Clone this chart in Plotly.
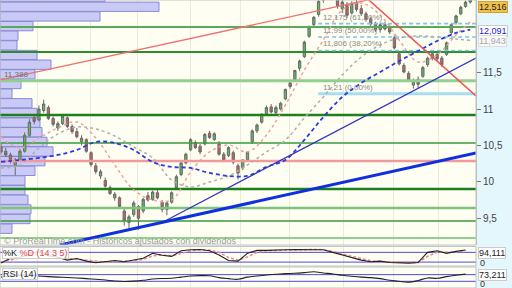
import plotly.graph_objects as go

# ---------------- data ----------------
idx = list(range(100))
opens = [10.48,10.42,10.37,10.23,10.30,10.42,10.64,10.88,10.85,10.98,
         11.02,10.87,10.74,10.80,10.88,10.76,10.69,10.55,10.58,10.40,
         10.22,10.08,10.02,9.92,9.78,9.78,9.60,9.44,9.55,9.66,
         9.60,9.81,9.76,9.85,9.72,9.62,9.72,9.92,10.10,10.26,
         10.44,10.54,10.49,10.52,10.67,10.58,10.52,10.38,10.36,10.40,
         10.22,10.19,10.30,10.55,10.70,10.82,10.94,11.03,10.95,11.00,
         11.14,11.36,11.40,11.56,11.72,12.00,12.16,12.30,12.50,12.60,
         12.68,12.55,12.38,12.44,12.32,12.46,12.38,12.31,12.24,12.18,
         12.09,12.16,12.12,11.98,11.76,11.60,11.49,11.33,11.41,11.45,
         11.61,11.70,11.75,11.70,11.75,12.05,12.19,12.31,12.41,12.47]
highs = [10.53,10.47,10.40,10.33,10.45,10.68,10.86,10.93,11.05,11.13,
         11.05,10.90,10.83,10.92,10.90,10.79,10.74,10.64,10.60,10.42,
         10.26,10.17,10.06,9.95,9.86,9.80,9.63,9.55,9.74,9.68,
         9.78,9.86,9.88,9.89,9.75,9.73,9.87,10.10,10.29,10.40,
         10.60,10.57,10.52,10.67,10.70,10.68,10.56,10.41,10.49,10.43,
         10.25,10.31,10.42,10.72,10.80,10.94,11.05,11.07,11.05,11.10,
         11.28,11.40,11.54,11.68,11.94,12.15,12.28,12.52,12.66,12.77,
         12.72,12.58,12.52,12.47,12.48,12.52,12.43,12.34,12.27,12.20,
         12.19,12.20,12.16,12.01,11.79,11.63,11.52,11.42,11.45,11.59,
         11.72,11.79,11.78,11.73,11.93,12.18,12.30,12.42,12.49,12.55]
lows = [10.38,10.34,10.25,10.09,10.27,10.40,10.62,10.79,10.83,10.95,
        10.85,10.76,10.70,10.78,10.74,10.66,10.60,10.50,10.40,10.21,
        10.11,10.04,9.92,9.82,9.74,9.64,9.40,9.34,9.52,9.34,
        9.57,9.73,9.74,9.76,9.58,9.54,9.70,9.90,10.08,10.24,
        10.42,10.45,10.38,10.50,10.59,10.56,10.36,10.27,10.34,10.24,
        10.03,10.16,10.28,10.52,10.67,10.80,10.92,10.94,10.91,10.98,
        11.12,11.28,11.38,11.52,11.70,11.98,12.14,12.27,12.46,12.56,
        12.52,12.38,12.32,12.25,12.30,12.34,12.28,12.20,12.14,12.06,
        12.05,12.08,12.03,11.82,11.60,11.49,11.38,11.28,11.29,11.43,
        11.58,11.67,11.66,11.58,11.73,12.02,12.16,12.29,12.39,12.45]
closes = [10.41,10.37,10.30,10.30,10.42,10.64,10.82,10.83,11.00,11.07,
          10.87,10.79,10.80,10.90,10.76,10.69,10.62,10.60,10.42,10.24,
          10.14,10.14,9.94,9.84,9.83,9.66,9.47,9.52,9.71,9.50,
          9.76,9.75,9.86,9.78,9.62,9.71,9.85,10.07,10.26,10.38,
          10.58,10.47,10.41,10.65,10.61,10.66,10.38,10.30,10.47,10.27,
          10.12,10.30,10.41,10.70,10.78,10.93,11.02,10.96,11.02,11.08,
          11.27,11.31,11.53,11.66,11.92,12.13,12.26,12.48,12.62,12.70,
          12.55,12.42,12.47,12.29,12.45,12.37,12.31,12.23,12.17,12.09,
          12.16,12.10,12.06,11.84,11.62,11.51,11.40,11.39,11.34,11.57,
          11.70,11.76,11.69,11.61,11.91,12.16,12.28,12.40,12.47,12.516]

ma_idx = [0,4,8,12,16,20,24,28,32,36,40,44,48,52,56,60,64,68,72,76,80,84,88,92,96,99]
ma_blue = [10.273,10.301,10.328,10.369,10.438,10.548,10.534,10.438,10.273,10.205,10.191,10.122,10.081,
           10.081,10.205,10.301,10.576,10.891,11.166,11.358,11.510,11.661,11.798,11.936,12.046,12.091]
ma_grey = [10.191,10.232,10.465,10.658,10.754,10.727,10.630,10.479,10.328,10.026,9.930,9.998,10.081,
           10.232,10.410,10.575,10.878,11.166,11.469,11.716,11.881,11.977,12.004,11.991,11.963,11.943]
ma_pink = [10.617,10.465,10.603,10.740,10.823,10.603,10.232,9.889,9.751,9.751,10.136,10.411,10.507,
           10.411,10.644,11.056,11.537,11.949,12.362,12.458,12.293,11.949,11.647,11.743,12.018,12.197]

# volume profile (price bin centre, volume)
vp_price = [12.538,12.406,12.273,12.140,12.008,11.875,11.743,11.610,11.477,11.345,11.212,11.080,
            10.947,10.814,10.682,10.549,10.417,10.284,10.151,10.019,9.886,9.754,9.621,9.489,9.356]
vp_volume = [105,159,100,33,18,17,37,51,35,21,12,32,37,40,42,47,53,45,35,25,25,28,31,30,12]

# horizontal support/resistance levels
green_levels = [12.128,11.785,11.388,10.919,10.534,9.902,9.641,9.462,9.229]
green_colors = ['#5aa85a','#2e8b2e','#8fcf8f','#1f7f1f','#3a9a3a','#1f7f1f','#7cc47c','#3a9a3a','#8fcf8f']
green_widths = [2,2,3,2.5,1.5,2.5,2.5,1.5,2]
red_level = 10.287

fib_levels = [12.175, 11.99, 11.806, 11.21]
fib_labels = ['12,175 (61,80%)', '11,99 (50,00%)', '11,806 (38,20%)', '11,21 (0,00%)']
fib_start = 66.9

# trend lines: (x0, y0, x1, y1, colour, width)
trendlines = [
    (-0.21, 11.40, 85.0, 12.608, '#f07070', 1.3),
    (77.6, 12.499, 100.2, 11.180, '#f05050', 1.5),
    (34.6, 9.462, 100.2, 11.702, '#3535c0', 1.3),
    (12.45, 9.133, 100.2, 10.397, '#1030e0', 3),
]

grid_x = [7.8, 18.8, 28.9, 39.9, 50.6, 60.8, 72.2, 82.7, 92.4]

osc_idx = list(range(0, 100, 2))
stoch_k = [14,44,50,70,85,60,50,32,42,26,16,24,30,22,32,44,74,62,55,90,96,98,90,64,30,
           26,74,92,92,92,96,98,98,100,96,80,64,50,32,22,26,18,14,14,18,80,90,74,86,94.1]
stoch_d = [20,32,45,58,72,70,58,42,38,32,22,20,24,26,28,36,58,64,58,72,90,96,94,80,48,
           32,52,80,90,92,94,96,98,98,96,86,70,56,40,28,24,22,18,16,16,56,80,80,82,92]
rsi = [55,60,64,66,62,58,55,53,50,46,42,38,32,29,31,36,44,47,48,55,62,64,63,52,46,
       42,55,62,68,72,76,78,82,87,80,74,66,60,55,52,46,36,30,25,35,50,48,58,66,73.2]

# ---------------- figure ----------------
W = 476 / 512
XR = [-0.21, 100.21]
FONT = 'Liberation Sans, Arial, sans-serif'

fig = go.Figure()

fig.add_trace(go.Bar(y=vp_price, x=vp_volume, orientation='h', width=0.128, base=0,
                     marker=dict(color='rgba(198,198,246,0.92)', line=dict(color='#8a8ad2', width=1)),
                     xaxis='x2', yaxis='y', hoverinfo='skip'))

for lv, c, w in zip(green_levels, green_colors, green_widths):
    fig.add_trace(go.Scatter(x=XR, y=[lv, lv], mode='lines', line=dict(color=c, width=w),
                             xaxis='x', yaxis='y', hoverinfo='skip'))
fig.add_trace(go.Scatter(x=XR, y=[red_level, red_level], mode='lines',
                         line=dict(color='#f29a9a', width=2.5), hoverinfo='skip'))

for k, lv in enumerate(fib_levels):
    last = k == len(fib_levels) - 1
    fig.add_trace(go.Scatter(x=[fib_start, XR[1]], y=[lv, lv], mode='lines',
                             line=dict(color='#a8dcf4' if last else '#7cc4ee', width=3 if last else 1.6,
                                       dash='solid' if last else '4px,3px'), hoverinfo='skip'))

fig.add_trace(go.Scatter(x=ma_idx, y=ma_grey, mode='lines', line=dict(color='#b0b0a8', width=1.5, dash='3px,3px', shape='spline'), hoverinfo='skip'))
fig.add_trace(go.Scatter(x=ma_idx, y=ma_pink, mode='lines', line=dict(color='#f0a0a0', width=1.5, dash='3px,3px', shape='spline'), hoverinfo='skip'))
fig.add_trace(go.Scatter(x=ma_idx, y=ma_blue, mode='lines', line=dict(color='#2a3ae0', width=1.8, dash='4px,3px', shape='spline'), hoverinfo='skip'))

for x0, y0, x1, y1, c, w in trendlines:
    fig.add_trace(go.Scatter(x=[x0, x1], y=[y0, y1], mode='lines', line=dict(color=c, width=w), hoverinfo='skip'))

fig.add_trace(go.Candlestick(x=idx, open=opens, high=highs, low=lows, close=closes,
                             increasing=dict(line=dict(color='#6a6a6a', width=1), fillcolor='#5cb85c'),
                             decreasing=dict(line=dict(color='#6a6a6a', width=1), fillcolor='#c8605c'),
                             whiskerwidth=0, xaxis='x', yaxis='y', hoverinfo='skip'))

# stochastic panel
for lv in [80, 20]:
    fig.add_trace(go.Scatter(x=XR, y=[lv, lv], mode='lines', line=dict(color='#4a4ae6', width=1),
                             xaxis='x3', yaxis='y3', hoverinfo='skip'))
fig.add_trace(go.Scatter(x=osc_idx, y=stoch_d, mode='lines', line=dict(color='#f08888', width=1.5, dash='3px,2px'),
                         xaxis='x3', yaxis='y3', hoverinfo='skip'))
fig.add_trace(go.Scatter(x=osc_idx, y=stoch_k, mode='lines', line=dict(color='#222222', width=1.1),
                         xaxis='x3', yaxis='y3', hoverinfo='skip'))

# RSI panel
for lv in [70, 30]:
    fig.add_trace(go.Scatter(x=XR, y=[lv, lv], mode='lines', line=dict(color='#4a4ae6', width=1),
                             xaxis='x4', yaxis='y4', hoverinfo='skip'))
fig.add_trace(go.Scatter(x=osc_idx, y=rsi, mode='lines', line=dict(color='#222222', width=1.1, shape='spline'),
                         xaxis='x4', yaxis='y4', hoverinfo='skip'))

gridc = '#ecebd8'
xcommon = dict(range=XR, showticklabels=False, tickvals=grid_x, showgrid=True, gridcolor=gridc,
               gridwidth=1, zeroline=False, ticks='', domain=[0, W], fixedrange=True)

ann = []
def A(text, x, y, xref='paper', yref='paper', **kw):
    d = dict(text=text, x=x, y=y, xref=xref, yref=yref, showarrow=False,
             font=dict(family=FONT, size=kw.pop('size', 9), color=kw.pop('color', '#555555')))
    d.update(kw)
    ann.append(d)

def py(p):
    return 1 - p / 288

A('11,388', 0.004, 11.388, yref='y', xanchor='left', yanchor='bottom', size=8, color='#707070')
for lv, lab in zip(fib_levels, fib_labels):
    A(lab, fib_start + 0.6, lv, xref='x', yref='y', xanchor='left', yanchor='bottom', size=8, color='#8a8a8a')
A('© ProRealTime.com - Históricos ajustados con dividendos', 0.004, py(241), xanchor='left', yanchor='middle',
  size=9, color='#9a9a9a')
A('%K <span style="color:#e04848">%D (14 3 5)</span>', 0.004, py(252.5), xanchor='left', yanchor='middle',
  size=9, color='#222222', bgcolor='rgba(255,255,255,0.85)', bordercolor='#cccccc', borderwidth=1, borderpad=0)
A('RSI (14)', 0.004, py(274), xanchor='left', yanchor='middle', size=9, color='#222222',
  bgcolor='rgba(255,255,255,0.85)', bordercolor='#cccccc', borderwidth=1, borderpad=0)

rx = 478 / 512
A('12,516', rx, py(0.5), xanchor='left', yanchor='top', size=9, color='#222222', bgcolor='#f2c14a',
  bordercolor='#d8a030', borderwidth=1, borderpad=0)
A('12,091', rx, py(30.5), xanchor='left', yanchor='middle', size=9, color='#2020d8', bgcolor='#ffffff',
  bordercolor='#cccccc', borderwidth=1, borderpad=0)
A('11,943', rx, py(41), xanchor='left', yanchor='middle', size=9, color='#a8a8a8', bgcolor='#f8f8f8',
  bordercolor='#dddddd', borderwidth=1, borderpad=0)
A('94,111', rx, py(253), xanchor='left', yanchor='middle', size=9, color='#222222', bgcolor='#ffffff',
  bordercolor='#cccccc', borderwidth=1, borderpad=0)
A('0', rx, py(262.5), xanchor='left', yanchor='middle', size=9, color='#333333')
A('73,211', rx, py(275), xanchor='left', yanchor='middle', size=9, color='#222222', bgcolor='#ffffff',
  bordercolor='#cccccc', borderwidth=1, borderpad=0)
A('0', rx, py(283.5), xanchor='left', yanchor='middle', size=9, color='#333333')

shapes = []
for top, bot in [(0, 245), (246.5, 266), (267, 288)]:
    shapes.append(dict(type='rect', xref='paper', yref='paper', x0=0, x1=W, y0=py(bot), y1=py(top),
                       line=dict(color='#c4c4c4', width=1), fillcolor='rgba(0,0,0,0)', layer='above'))

fig.update_layout(
    width=512, height=288, margin=dict(l=0, r=0, t=0, b=0),
    paper_bgcolor='#e3f7fc', plot_bgcolor='#fefef2',
    showlegend=False, separators=', ', font=dict(family=FONT, size=10, color='#333333'),
    xaxis=dict(**xcommon, anchor='y', overlaying='x2', rangeslider=dict(visible=False)),
    xaxis2=dict(domain=[0, W], range=[0, 476], visible=False, anchor='y', fixedrange=True),
    xaxis3=dict(**xcommon, anchor='y3', matches='x'),
    xaxis4=dict(**xcommon, anchor='y4', matches='x'),
    yaxis=dict(domain=[py(245), 1], range=[9.132, 12.499], side='right', anchor='x',
               tickvals=[9.5, 10, 10.5, 11, 11.5], ticktext=['9,5', '10', '10,5', '11', '11,5'],
               ticks='outside', ticklen=4, tickcolor='#777777', showgrid=False, zeroline=False,
               showline=True, linecolor='#b8b8b8', tickfont=dict(size=10, color='#444444')),
    yaxis3=dict(domain=[py(266), py(246.5)], range=[-4, 116], anchor='x3', showticklabels=False,
                showgrid=False, zeroline=False),
    yaxis4=dict(domain=[0, py(267)], range=[-10, 115.7], anchor='x4', showticklabels=False,
                showgrid=False, zeroline=False),
    annotations=ann, shapes=shapes,
)

fig.write_html('out.html')
